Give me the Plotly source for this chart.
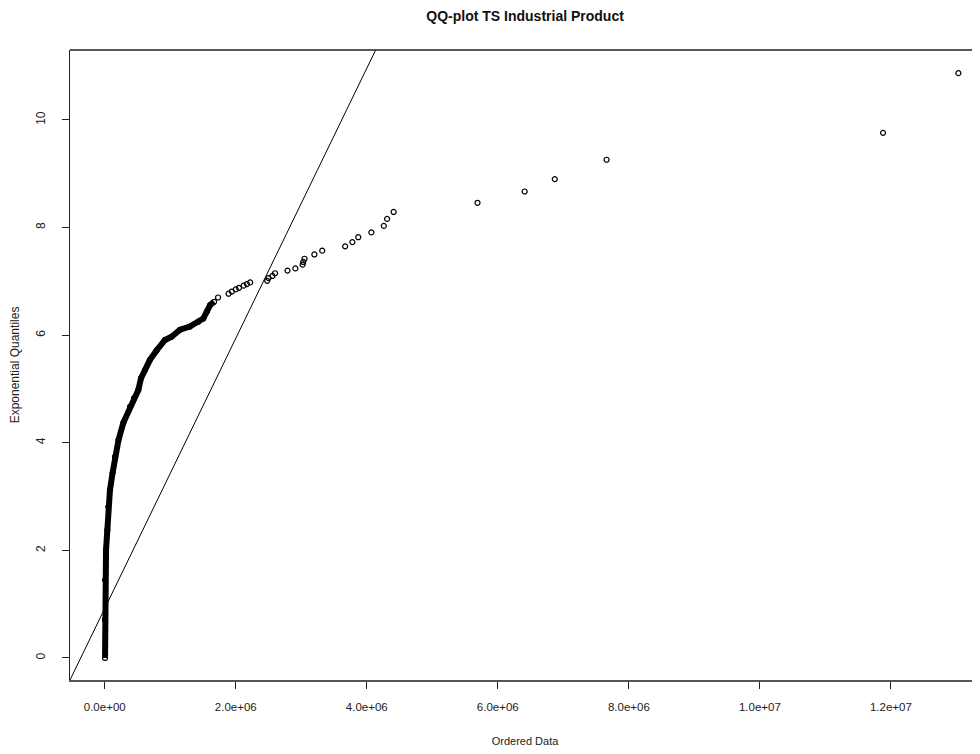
import plotly.graph_objects as go

# ---- data ----
# dense part of the QQ band (ordered data, exponential quantiles)
dense_x = [0.005e6, 0.005e6, 0.005e6, 0.02e6, 0.04e6, 0.055e6, 0.08e6, 0.12e6, 0.157e6,
           0.21e6, 0.284e6, 0.386e6, 0.447e6, 0.513e6, 0.554e6, 0.615e6, 0.69e6, 0.794e6,
           0.92e6, 1.02e6, 1.15e6, 1.30e6, 1.43e6, 1.505e6, 1.56e6, 1.61e6, 1.67e6]
dense_y = [0.00, 0.71, 1.45, 2.01, 2.38, 2.81, 3.12, 3.44, 3.74,
           4.05, 4.37, 4.67, 4.83, 4.98, 5.20, 5.35, 5.54, 5.72,
           5.91, 5.97, 6.10, 6.16, 6.25, 6.31, 6.44, 6.56, 6.62]

# sparse upper tail points
tail_x = [1.73e6, 1.89e6, 1.94e6, 2.00e6, 2.05e6, 2.12e6, 2.17e6, 2.22e6, 2.48e6, 2.50e6,
          2.56e6, 2.60e6, 2.79e6, 2.91e6, 3.02e6, 3.03e6, 3.05e6, 3.20e6, 3.32e6, 3.67e6,
          3.78e6, 3.87e6, 4.07e6, 4.26e6, 4.31e6, 4.41e6, 5.69e6, 6.41e6, 6.87e6, 7.66e6,
          11.88e6, 13.03e6]
tail_y = [6.70, 6.77, 6.81, 6.85, 6.88, 6.92, 6.95, 6.98, 7.01, 7.06,
          7.10, 7.15, 7.20, 7.24, 7.31, 7.36, 7.42, 7.50, 7.57, 7.65,
          7.73, 7.82, 7.91, 8.03, 8.16, 8.29, 8.46, 8.67, 8.90, 9.26,
          9.76, 10.87]

# reference line (intercept, slope)
line_intercept = 0.92
line_slope = 2.51e-6

x_tickvals = [0, 2e6, 4e6, 6e6, 8e6, 10e6, 12e6]
x_ticktext = ["0.0e+00", "2.0e+06", "4.0e+06", "6.0e+06", "8.0e+06", "1.0e+07", "1.2e+07"]
y_tickvals = [0, 2, 4, 6, 8, 10]
y_ticktext = ["0", "2", "4", "6", "8", "10"]

x_range = [-0.53e6, 13.36e6]
y_range = [-0.41, 11.30]

FONT = "Liberation Sans, Arial, sans-serif"

fig = go.Figure()

line_x = [x_range[0] - 1e6, x_range[1]]
line_y = [line_intercept + line_slope * v for v in line_x]
fig.add_trace(go.Scatter(x=line_x, y=line_y, mode="lines",
                         line=dict(color="black", width=1), hoverinfo="skip"))

fig.add_trace(go.Scatter(x=dense_x, y=dense_y, mode="lines+markers",
                         line=dict(color="black", width=6),
                         marker=dict(symbol="circle-open", size=5, color="black",
                                     line=dict(width=1.2))))

fig.add_trace(go.Scatter(x=tail_x, y=tail_y, mode="markers",
                         marker=dict(symbol="circle-open", size=5, color="black",
                                     line=dict(width=1.2))))

# page body has an 8px margin, so the figure is sized/offset to compensate
fig.update_layout(
    width=972, height=746,
    margin=dict(l=62, r=0, t=42, b=74),
    paper_bgcolor="white", plot_bgcolor="white",
    showlegend=False,
    font=dict(family=FONT, size=12, color="#222"),
    title=dict(text="<b>QQ-plot TS Industrial Product</b>", x=0.532, xanchor="center",
               y=1 - 8 / 746, yanchor="middle", yref="container",
               font=dict(family=FONT, size=14, color="#111")),
    xaxis=dict(range=x_range, showgrid=False, zeroline=False,
               showline=True, linecolor="#555", linewidth=2,
               ticks="outside", ticklen=7, tickwidth=1, tickcolor="#222",
               tickvals=x_tickvals, ticktext=x_ticktext, ticklabelstandoff=8,
               tickfont=dict(size=11.5, color="#222"),
               title=dict(text="Ordered Data", standoff=26,
                          font=dict(size=11, color="#222"))),
    yaxis=dict(range=y_range, showgrid=False, zeroline=False,
               showline=True, linecolor="#222", linewidth=1,
               ticks="outside", ticklen=7, tickwidth=1, tickcolor="#222",
               tickvals=y_tickvals, ticktext=y_ticktext, tickangle=-90,
               ticklabelstandoff=12,
               tickfont=dict(size=12, color="#222"),
               title=dict(text="Exponential Quantiles", standoff=12,
                          font=dict(size=12, color="#222"))),
    shapes=[dict(type="line", xref="paper", yref="paper", x0=0, x1=1, y0=1, y1=1,
                 line=dict(color="#222", width=1.5))],
)

fig.write_html("out.html")
